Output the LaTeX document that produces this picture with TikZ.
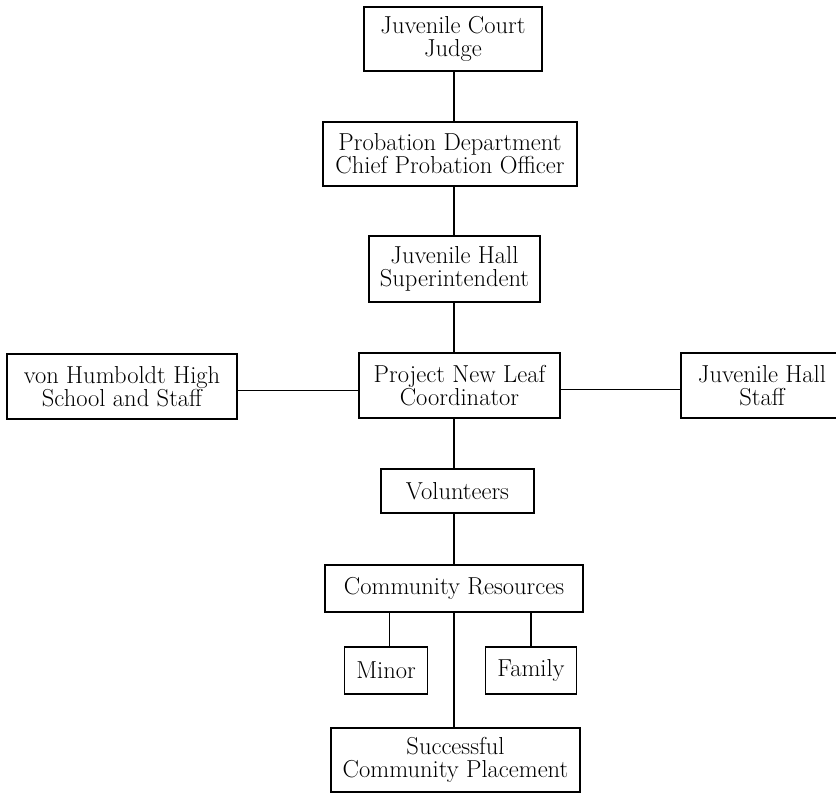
\documentclass[tikz,border=0pt]{standalone}
\begin{document}
\begin{tikzpicture}[x=0.75pt,y=-0.75pt,
  orgbox/.style={draw,line width=1pt,align=center,inner sep=0pt,
    font=\fontsize{18.4}{17}\selectfont},
  link/.style={line width=1pt}]
\useasboundingbox (0,0) rectangle (836,794);
\coordinate (spine) at (454,0);
% chain of command
\node[orgbox,minimum width=133.5pt,minimum height=48pt] (judge) at (453,39) {Juvenile Court\\Judge};
\node[orgbox,minimum width=190.5pt,minimum height=48pt] (probation) at (450,154) {Probation Department\\Chief Probation Officer};
\node[orgbox,minimum width=128.25pt,minimum height=49.5pt] (supt) at (454.5,269) {Juvenile Hall\\Superintendent};
\node[orgbox,minimum width=150.75pt,minimum height=48.75pt] (leaf) at (459.5,385.5) {Project New Leaf\\Coordinator};
% side boxes
\node[orgbox,minimum width=172.5pt,minimum height=48.75pt] (school) at (122,386.5) {von Humboldt High\\School and Staff};
\node[orgbox,minimum width=121.5pt,minimum height=48.75pt] (staff) at (762,385.5) {Juvenile Hall\\Staff};
% lower part
\node[orgbox,minimum width=114.75pt,minimum height=33pt] (volunteers) at (457.5,491) {Volunteers};
\node[orgbox,minimum width=193.5pt,minimum height=35.25pt] (resources) at (454,588.5) {Community Resources};
\node[orgbox,minimum width=62.25pt,minimum height=35.25pt] (minor) at (386,670.5) {Minor};
\node[orgbox,minimum width=68.25pt,minimum height=35.25pt] (family) at (531,670.5) {Family};
\node[orgbox,minimum width=186.75pt,minimum height=48pt] (placement) at (455.5,760) {Successful\\Community Placement};

\draw[link] (spine |- judge.south) -- (spine |- probation.north);
\draw[link] (spine |- probation.south) -- (spine |- supt.north);
\draw[link] (spine |- supt.south) -- (spine |- leaf.north);
\draw[link] (spine |- leaf.south) -- (spine |- volunteers.north);
\draw[link] (spine |- volunteers.south) -- (spine |- resources.north);
\draw[link] (spine |- resources.south) -- (spine |- placement.north);
\draw[link] ([yshift=-3pt]school.east) -- ([yshift=-3pt]school.east -| leaf.west);
\draw[link] ([yshift=-3pt]leaf.east) -- ([yshift=-3pt]leaf.east -| staff.west);
\draw[link] ([xshift=2.5pt]minor.north) -- ([xshift=2.5pt]minor.north |- resources.south);
\draw[link] (family.north) -- (family.north |- resources.south);
\end{tikzpicture}
\end{document}
